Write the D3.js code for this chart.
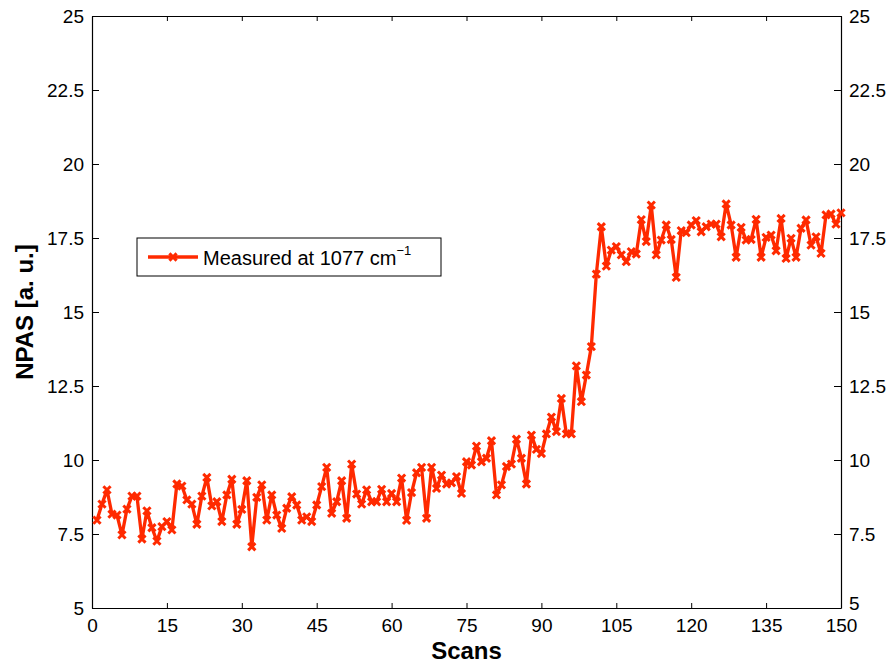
<!DOCTYPE html>
<html lang="en">
<head>
<meta charset="UTF-8">
<title>NPAS</title>
<style>
  body { margin: 0; background: #fff; }
  text { font-family: "Liberation Sans", Arial, Helvetica, sans-serif; }
</style>
</head>
<body>
<script src="https://d3js.org/d3.v7.min.js"></script>
<script>
const width = 888, height = 663;
const margin = {left: 92, right: 47, top: 16, bottom: 55};

// scans 1..150
const npas = [
  7.97, 8.51, 8.99, 8.17, 8.14, 7.47, 8.34, 8.78, 8.78, 7.33,
  8.28, 7.71, 7.26, 7.75, 7.92, 7.64, 9.19, 9.12, 8.65, 8.51,
  7.83, 8.78, 9.41, 8.45, 8.59, 7.92, 8.82, 9.35, 7.83, 8.33,
  9.30, 7.07, 8.74, 9.16, 7.97, 8.82, 8.14, 7.69, 8.37, 8.76,
  8.48, 7.97, 8.08, 7.92, 8.48, 9.10, 9.75, 8.20, 8.59, 9.30,
  8.03, 9.86, 8.85, 8.51, 8.99, 8.59, 8.59, 9.01, 8.59, 8.87,
  8.59, 9.39, 7.96, 8.90, 9.57, 9.75, 8.03, 9.75, 9.04, 9.49,
  9.19, 9.23, 9.44, 8.87, 9.94, 9.83, 10.47, 9.94, 10.06, 10.65,
  8.82, 9.16, 9.78, 9.86, 10.70, 10.06, 9.19, 10.84, 10.36, 10.22,
  10.88, 11.45, 10.96, 12.08, 10.88, 10.88, 13.18, 11.97, 12.87, 13.83,
  16.28, 17.88, 16.55, 17.09, 17.21, 16.93, 16.70, 17.04, 16.96, 18.12,
  17.38, 18.61, 16.93, 17.43, 17.94, 17.45, 16.17, 17.75, 17.68, 17.94,
  18.09, 17.71, 17.88, 17.97, 17.97, 17.54, 18.65, 17.94, 16.85, 17.86,
  17.43, 17.45, 18.13, 16.85, 17.52, 17.60, 17.07, 18.16, 16.81, 17.49,
  16.85, 17.83, 18.11, 17.26, 17.54, 16.98, 18.28, 18.31, 17.97, 18.35
];
const scans = npas.map((d, i) => i + 1);
const xTicks = [0, 15, 30, 45, 60, 75, 90, 105, 120, 135, 150];
const yTicks = [5, 7.5, 10, 12.5, 15, 17.5, 20, 22.5, 25];
const seriesName = "Measured at 1077 cm";

const color = "#ff2a00";

const svg = d3.select("body").append("svg")
  .attr("width", width)
  .attr("height", height);

const x = d3.scaleLinear().domain([0, 150]).range([margin.left, width - margin.right]);
const y = d3.scaleLinear().domain([5, 25]).range([height - margin.bottom, margin.top]);

const fmt = d => String(d);

// axes, ticks pointing inward
svg.append("g")
  .attr("transform", "translate(0," + y(5) + ")")
  .call(d3.axisBottom(x).tickValues(xTicks).tickFormat(fmt).tickSizeInner(-5).tickSizeOuter(0).tickPadding(11));
svg.append("g")
  .attr("transform", "translate(0," + y(25) + ")")
  .call(d3.axisTop(x).tickValues(xTicks).tickFormat("").tickSizeInner(-5).tickSizeOuter(0));
svg.append("g")
  .attr("transform", "translate(" + x(0) + ",0)")
  .call(d3.axisLeft(y).tickValues(yTicks).tickFormat(fmt).tickSizeInner(-7).tickSizeOuter(0).tickPadding(8));
svg.append("g")
  .attr("class", "right")
  .attr("transform", "translate(" + x(150) + ",0)")
  .call(d3.axisRight(y).tickValues(yTicks).tickFormat(fmt).tickSizeInner(-7).tickSizeOuter(0).tickPadding(8));

svg.selectAll(".domain").attr("stroke", "#000").attr("stroke-width", 1.2);
svg.selectAll(".tick line").attr("stroke", "#000");
svg.selectAll(".tick text")
  .attr("font-size", 19)
  .attr("fill", "#000")
  .style("font-family", "'Liberation Sans', Arial, sans-serif");
// the right "5" sits just above the corner, as in the original
svg.select(".right").selectAll(".tick text").filter(d => d === 5).attr("dy", "0.1em");

// axis titles
svg.append("text")
  .attr("x", (x(0) + x(150)) / 2)
  .attr("y", 659)
  .attr("text-anchor", "middle")
  .attr("font-size", 24)
  .attr("font-weight", "bold")
  .text("Scans");

svg.append("text")
  .attr("transform", "translate(33," + ((y(5) + y(25)) / 2) + ") rotate(-90)")
  .attr("text-anchor", "middle")
  .attr("font-size", 24)
  .attr("font-weight", "bold")
  .text("NPAS [a. u.]");

// line + x markers
const line = d3.line().x((d, i) => x(scans[i])).y(d => y(d));

svg.append("path")
  .datum(npas)
  .attr("fill", "none")
  .attr("stroke", color)
  .attr("stroke-width", 3.3)
  .attr("stroke-linejoin", "round")
  .attr("d", line);

const m = 3.6;
const cross = "M" + (-m) + "," + (-m) + "L" + m + "," + m + "M" + (-m) + "," + m + "L" + m + "," + (-m);

svg.append("g").selectAll("path")
  .data(npas)
  .join("path")
  .attr("transform", (d, i) => "translate(" + x(scans[i]) + "," + y(d) + ")")
  .attr("d", cross)
  .attr("stroke", color)
  .attr("stroke-width", 3)
  .attr("fill", "none");

// legend
const lg = svg.append("g").attr("transform", "translate(137,238)");
lg.append("rect")
  .attr("width", 304)
  .attr("height", 38)
  .attr("fill", "#fff")
  .attr("stroke", "#000")
  .attr("stroke-width", 1);
lg.append("line")
  .attr("x1", 11).attr("x2", 61)
  .attr("y1", 19).attr("y2", 19)
  .attr("stroke", color)
  .attr("stroke-width", 3.3);
lg.append("path")
  .attr("transform", "translate(36,19)")
  .attr("d", cross)
  .attr("stroke", color)
  .attr("stroke-width", 3);
const lt = lg.append("text")
  .attr("x", 66)
  .attr("y", 27)
  .attr("font-size", 20)
  .attr("fill", "#000");
lt.append("tspan").text(seriesName);
lt.append("tspan").attr("dy", -10).attr("font-size", 13).text("\u22121");
</script>
</body>
</html>
